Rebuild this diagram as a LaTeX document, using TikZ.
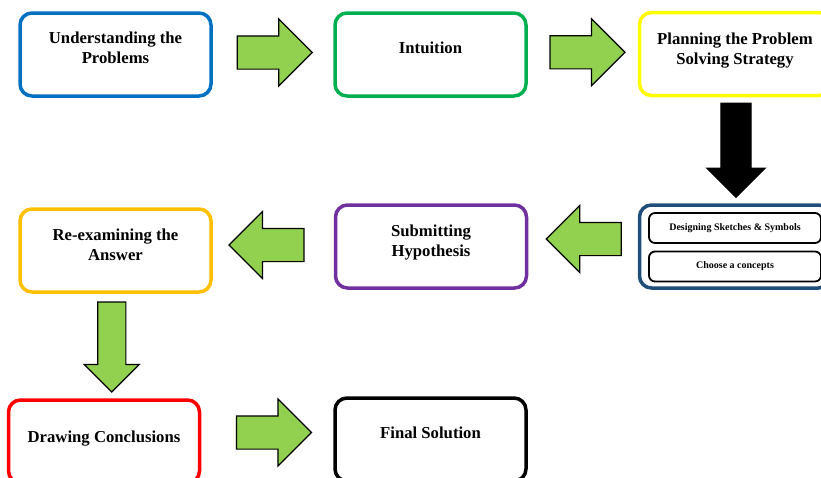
\documentclass[tikz,border=0pt]{standalone}
\usepackage{fontspec}
\setmainfont{Liberation Serif}
\usetikzlibrary{shapes}
\usetikzlibrary{shapes.arrows}
\usetikzlibrary{calc}
\definecolor{boxblue}{HTML}{0070C0}
\definecolor{boxgreen}{HTML}{00B050}
\definecolor{boxyellow}{HTML}{FFFF00}
\definecolor{boxnavy}{HTML}{1F4E79}
\definecolor{boxpurple}{HTML}{7030A0}
\definecolor{boxorange}{HTML}{FFC000}
\definecolor{boxred}{HTML}{FF0000}
\definecolor{arrowgreen}{HTML}{92D050}
\tikzset{
    stepbox/.style = {rectangle, rounded corners=12pt, line width=3.5pt, draw=#1, fill=white, minimum width=191pt, minimum height=83pt},
    boxtext/.style = {align=center, font=\fontsize{16.7}{20}\selectfont\bfseries},
    subbox/.style = {rectangle, rounded corners=6pt, line width=1.8pt, draw=black, minimum width=172pt, minimum height=30pt, font=\fontsize{10}{12}\selectfont\bfseries},
    arrowbase/.style = {single arrow, single arrow tip angle=90, draw=black, line width=1.2pt},
    flowarrow/.style = {arrowbase, fill=arrowgreen, minimum height=75pt, minimum width=66pt, inner sep=16pt, single arrow head extend=17pt, shape border rotate=#1},
    downarrow/.style = {arrowbase, fill=arrowgreen, minimum height=90pt, minimum width=54pt, inner sep=13.5pt, single arrow head extend=13.5pt, shape border rotate=270},
    blackarrow/.style = {arrowbase, fill=black, minimum height=94pt, minimum width=57pt, inner sep=14.5pt, single arrow head extend=14pt, shape border rotate=270}
}
\begin{document}
\begin{tikzpicture}[x=1pt,y=-1pt]
\useasboundingbox (0,0) rectangle (821,477);
%
\node[stepbox=boxblue, label={[boxtext, name=t1, yshift=7pt]center:Understanding the\\Problems}] at (115.5,54.5) (b1) {};
\node[stepbox=boxgreen, label={[boxtext, name=t2, yshift=7pt]center:Intuition}] at (430.5,54.5) (b2) {};
\node[stepbox=boxyellow, label={[boxtext, name=t3, yshift=3pt]center:Planning the Problem\\Solving Strategy}] at (735,54) (b3) {};
\node[stepbox=boxnavy] at (735,246.5) (b4) {};
\node[subbox] at (735,228) (s1) {Designing Sketches \& Symbols};
\node[subbox] at (735,266.5) (s2) {Choose a concepts};
\node[stepbox=boxpurple, label={[boxtext, name=t5, yshift=3.5pt]center:Submitting\\Hypothesis}] at (431,246.5) (b5) {};
\node[stepbox=boxorange, label={[boxtext, name=t6, yshift=6pt]center:Re-examining the\\Answer}] at (115.5,250.5) (b6) {};
\node[stepbox=boxred, label={[boxtext, name=t7, yshift=3pt]center:Drawing Conclusions}] at (104,441.5) (b7) {};
\node[stepbox=black, label={[boxtext, name=t8, yshift=6.5pt]center:Final Solution}] at (430.5,439.5) (b8) {};
%
\node[flowarrow=0] at ($(b1.east)!0.5!(b2.west)+(-6.5,-2)$) (a1) {};
\node[flowarrow=0] at ($(b2.east)!0.5!(b3.west)+(-3.5,-2)$) (a2) {};
\node[blackarrow] at ($(b3.south)!0.5!(b4.north)+(1,-7.5)$) (a3) {};
\node[flowarrow=180] at ($(b4.west)!0.5!(b5.east)+(9,-7.5)$) (a4) {};
\node[flowarrow=180] at ($(b5.west)!0.5!(b6.east)+(1.5,-3.5)$) (a5) {};
\node[downarrow] at ($(b6.south)!0.5!(b7.north)+(2,-6)$) (a6) {};
\node[flowarrow=0] at ($(b7.east)!0.5!(b8.west)+(-1.5,-8)$) (a7) {};
\end{tikzpicture}
\end{document}
